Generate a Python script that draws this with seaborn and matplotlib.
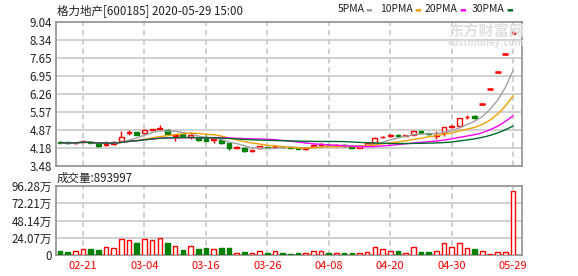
import matplotlib
matplotlib.use("Agg")
import numpy as np
import pandas as pd
import seaborn as sns
import matplotlib.pyplot as plt

# ---------------- data ----------------
dates = ["02-18", "02-19", "02-20", "02-21", "02-24", "02-25", "02-26", "02-27", "02-28",
         "03-02", "03-03", "03-04", "03-05", "03-06", "03-09", "03-10", "03-11", "03-12", "03-13",
         "03-16", "03-17", "03-18", "03-19", "03-20", "03-23", "03-24", "03-25", "03-26", "03-27",
         "03-30", "03-31", "04-01", "04-02", "04-03", "04-07", "04-08", "04-09", "04-10",
         "04-13", "04-14", "04-15", "04-16", "04-17", "04-20", "04-21", "04-22", "04-23", "04-24",
         "04-27", "04-28", "04-29", "04-30", "05-06", "05-07", "05-08",
         "05-25", "05-26", "05-27", "05-28", "05-29"]
opens = [4.42, 4.40, 4.36, 4.43, 4.40, 4.32, 4.31, 4.33, 4.46, 4.78,
         4.79, 4.76, 4.88, 4.90, 4.88, 4.66, 4.74, 4.59, 4.56, 4.56,
         4.51, 4.50, 4.37, 4.20, 4.20, 4.08, 4.18, 4.23, 4.23, 4.23,
         4.22, 4.18, 4.14, 4.26, 4.30, 4.31, 4.28, 4.31, 4.22, 4.18,
         4.29, 4.37, 4.59, 4.66, 4.68, 4.65, 4.69, 4.83, 4.77, 4.65,
         4.76, 4.98, 5.05, 5.36, 5.43, 5.87, 6.46, 7.11, 7.82, 8.60]
highs = [4.44, 4.42, 4.41, 4.49, 4.41, 4.33, 4.46, 4.45, 4.82, 4.88,
         4.81, 4.90, 4.93, 5.08, 4.90, 4.72, 4.76, 4.79, 4.57, 4.67,
         4.57, 4.51, 4.38, 4.25, 4.22, 4.12, 4.28, 4.24, 4.28, 4.24,
         4.23, 4.19, 4.18, 4.33, 4.37, 4.33, 4.33, 4.32, 4.23, 4.30,
         4.38, 4.60, 4.65, 4.74, 4.73, 4.70, 4.84, 4.84, 4.78, 4.82,
         5.00, 5.06, 5.35, 5.46, 5.45, 5.87, 6.46, 7.11, 7.82, 8.60]
lows = [4.37, 4.35, 4.34, 4.41, 4.36, 4.22, 4.28, 4.31, 4.44, 4.69,
        4.68, 4.74, 4.86, 4.88, 4.71, 4.44, 4.61, 4.54, 4.44, 4.45,
        4.36, 4.35, 4.11, 4.17, 4.04, 4.04, 4.16, 4.17, 4.19, 4.20,
        4.19, 4.13, 4.12, 4.24, 4.24, 4.27, 4.25, 4.24, 4.17, 4.17,
        4.27, 4.35, 4.56, 4.59, 4.63, 4.63, 4.68, 4.75, 4.68, 4.53,
        4.65, 4.95, 5.03, 5.30, 5.32, 5.87, 6.46, 7.11, 7.82, 8.60]
closes = [4.39, 4.37, 4.39, 4.47, 4.38, 4.25, 4.35, 4.40, 4.61, 4.80,
          4.70, 4.88, 4.91, 4.95, 4.73, 4.68, 4.63, 4.69, 4.50, 4.46,
          4.55, 4.36, 4.18, 4.22, 4.06, 4.10, 4.26, 4.19, 4.25, 4.21,
          4.20, 4.15, 4.17, 4.31, 4.32, 4.29, 4.30, 4.25, 4.19, 4.28,
          4.36, 4.56, 4.61, 4.68, 4.66, 4.69, 4.82, 4.76, 4.74, 4.68,
          4.98, 5.05, 5.33, 5.38, 5.34, 5.87, 6.46, 7.11, 7.82, 8.60]
volumes = [56000, 42000, 51000, 79000, 84000, 70000, 107000, 93000, 229000, 205000,
           168000, 219000, 205000, 233000, 168000, 121000, 70000, 121000, 84000, 98000,
           79000, 98000, 98000, 28000, 42000, 28000, 51000, 28000, 51000, 28000,
           14000, 28000, 28000, 56000, 56000, 28000, 28000, 28000, 28000, 28000,
           42000, 107000, 79000, 56000, 61000, 28000, 107000, 42000, 42000, 56000,
           168000, 107000, 168000, 93000, 84000, 56000, 14000, 42000, 42000, 893997]

ma_periods = [5, 10, 20, 30]
ma_names = ["5PMA", "10PMA", "20PMA", "30PMA"]
ma_colors = ["#a0a0a0", "#f2a100", "#ff00ff", "#006b2e"]

price_ticks = [3.48, 4.18, 4.87, 5.57, 6.26, 6.95, 7.65, 8.34, 9.04]
vol_ticks = [0, 240700, 481400, 722100, 962800]
vol_tick_labels = ["0", "24.07万", "48.14万", "72.21万", "96.28万"]
title = "格力地产[600185] 2020-05-29 15:00"
vol_label = "成交量:893997"

RED = "#ff0000"
GREEN = "#008000"
GRID = "#c8c8c8"
EDGE = "#999999"

# ---------------- style ----------------
sns.set_theme(style="white")
plt.rcParams["font.family"] = ["Noto Sans CJK SC", "DejaVu Sans"]

W, H = 578, 276
fig = plt.figure(figsize=(W / 100, H / 100), dpi=100)
fig.patch.set_facecolor("white")

ax = fig.add_axes([56 / W, 1 - 166.3 / H, 466 / W, 144.4 / H])
axv = fig.add_axes([56 / W, 1 - 255 / H, 466 / W, 69 / H])

n = len(closes)
x = np.arange(n)
o = np.array(opens); c = np.array(closes); hi = np.array(highs); lo = np.array(lows)
up = c >= o
cols = np.where(up, RED, GREEN)
label_idx = list(range(3, n, 8))

# grid: solid horizontal, dashed vertical
for a, ticks in ((ax, price_ticks), (axv, vol_ticks)):
    a.hlines(ticks, -0.52, 60.16, colors=GRID, linewidth=1.2, zorder=1)
    a.vlines(label_idx, ticks[0], ticks[-1], colors=GRID, linewidth=1.2,
             linestyles=(0, (3.2, 2.4)), zorder=1)

# candles
ax.vlines(x, lo, hi, colors=cols, linewidth=1, zorder=2)
body_h = np.abs(c - o)
bottom = np.minimum(o, c)
face = np.where(up, "white", GREEN)
ax.bar(x, body_h, bottom=bottom, width=0.62, color=face, edgecolor=cols,
       linewidth=1, zorder=3)
flat = body_h < 0.005
ax.hlines(c[flat], x[flat] - 0.38, x[flat] + 0.38, colors=cols[flat], linewidth=1.8, zorder=4)

# moving averages (seaborn)
df = pd.DataFrame({"idx": x, "close": c})
for p, nm in zip(ma_periods, ma_names):
    df[nm] = df["close"].rolling(p, min_periods=1).mean()
long = df.melt(id_vars="idx", value_vars=ma_names, var_name="ma", value_name="val")
sns.lineplot(data=long, x="idx", y="val", hue="ma", hue_order=ma_names,
             palette=dict(zip(ma_names, ma_colors)), linewidth=1, ax=ax,
             legend=False, zorder=5)

# volume
vol = np.array(volumes, dtype=float)
vface = np.where(up, "white", GREEN)
axv.bar(x, vol, width=0.6, color=vface, edgecolor=cols, linewidth=1, zorder=3)

for a, ticks in ((ax, price_ticks), (axv, vol_ticks)):
    a.set_xlim(-0.52, 60.16)
    a.set_xticks(label_idx)
    a.set_yticks(ticks)
    a.grid(False)
    for s in a.spines.values():
        s.set_visible(True)
        s.set_color(EDGE)
        s.set_linewidth(1.3)
    a.set_xlabel("")
    a.set_ylabel("")
    a.tick_params(length=0, labelsize=8.3, colors="#222222", pad=3)

ax.set_ylim(price_ticks[0], price_ticks[-1])
ax.set_yticklabels([f"{v:.2f}" for v in price_ticks])
ax.tick_params(axis="x", labelbottom=False)

axv.set_ylim(0, vol_ticks[-1])
axv.set_yticklabels(vol_tick_labels)
axv.set_xticklabels([dates[i] for i in label_idx])
axv.tick_params(axis="x", colors=RED, labelsize=8, pad=4)
for t in axv.get_xticklabels():
    t.set_color(RED)

fig.text(57 / W, 1 - 10.5 / H, title, fontsize=8.3, color="#222222", va="center", ha="left")
fig.text(57 / W, 1 - 178 / H, vol_label, fontsize=8.3, color="#222222", va="center", ha="left")

lx = [338, 380, 425, 472]
for xx, nm, col in zip(lx, ma_names, ma_colors):
    fig.text(xx / W, 1 - 9.5 / H, nm, fontsize=7.5, color="#222222",
             va="center", ha="left")
    fig.text((xx + 6.2 * len(nm) + 3) / W, 1 - 9.5 / H, "\u25ac", fontsize=5,
             color=col, va="center", ha="left")

fig.text(486 / W, 1 - 31 / H, "东方财富网", fontsize=11, fontweight="bold",
         color="#e0e0e0", va="center", ha="center", zorder=0)
fig.text(486 / W, 1 - 43 / H, "eastmoney.com", fontsize=7, fontweight="bold",
         color="#e0e0e0", va="center", ha="center", zorder=0)

fig.savefig("out.png", dpi=100, facecolor="white")
